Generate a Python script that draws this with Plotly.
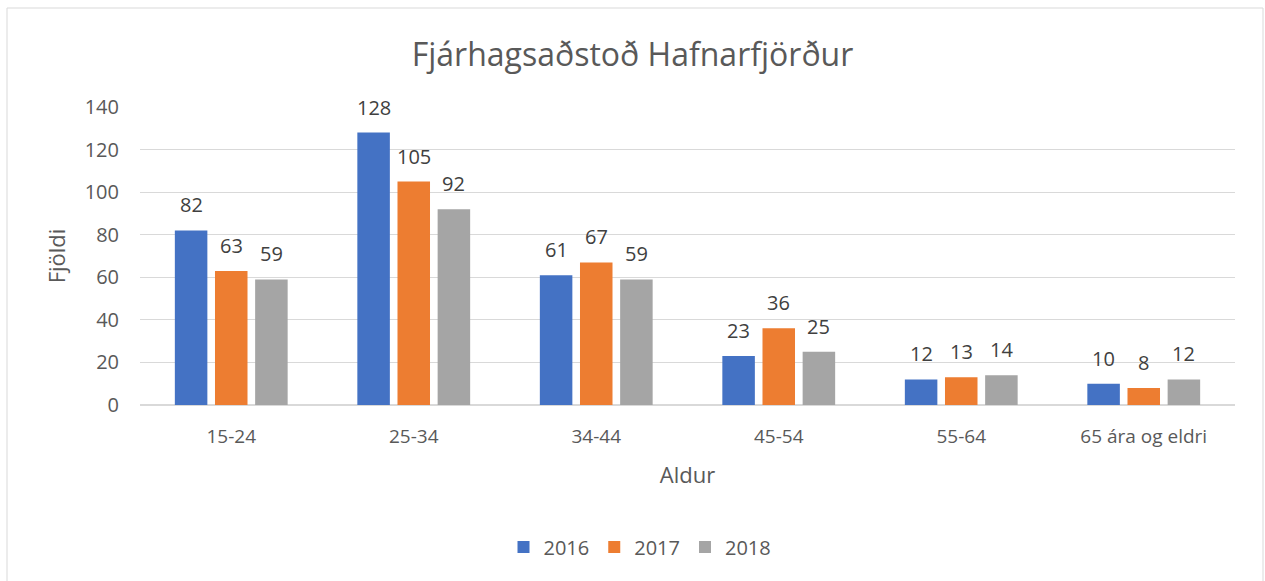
import plotly.graph_objects as go

categories = ["15-24", "25-34", "34-44", "45-54", "55-64", "65 ára og eldri"]
years = ["2016", "2017", "2018"]
v2016 = [82, 128, 61, 23, 12, 10]
v2017 = [63, 105, 67, 36, 13, 8]
v2018 = [59, 92, 59, 25, 14, 12]
colors = ["#4472C4", "#ED7D31", "#A5A5A5"]

FONT = "Open Sans"
BARGAP = 0.34
series = [v2016, v2017, v2018]

fig = go.Figure()
for name, vals, c in zip(years, series, colors):
    fig.add_trace(go.Bar(
        x=categories, y=vals, name=name, marker=dict(color=c, line=dict(width=0)),
    ))

# data labels placed above each bar, aligned with grouped-bar slots
slot = (1 - BARGAP) / len(series)
annotations = []
for k, vals in enumerate(series):
    off = (k - (len(series) - 1) / 2) * slot
    for i, v in enumerate(vals):
        annotations.append(dict(
            x=i + off, y=v, xref="x", yref="y", text=str(v), showarrow=False,
            yanchor="bottom", xanchor="center", yshift=10,
            font=dict(size=20, color="#404040", family=FONT),
        ))

W, H = 1265, 581
L, R, T, B = 140, 30, 107, 176
pw, ph = W - L - R, H - T - B

fig.update_layout(
    width=W, height=H,
    paper_bgcolor="white", plot_bgcolor="white",
    margin=dict(l=L, r=R, t=T, b=B),
    barmode="group", bargap=BARGAP, bargroupgap=0.19,
    title=dict(text="Fjárhagsaðstoð Hafnarfjörður", x=0.5, xanchor="center",
               y=1 - 55 / H, yanchor="middle",
               font=dict(size=32, color="#595959", family=FONT)),
    font=dict(family=FONT, color="#595959", size=16),
    xaxis=dict(title=dict(text="Aldur", font=dict(size=22, color="#595959"), standoff=19),
               tickfont=dict(size=19, color="#595959"), showline=True,
               linecolor="#D9D9D9", linewidth=1, ticks="", ticklabelstandoff=14),
    yaxis=dict(title=dict(text="Fjöldi", font=dict(size=22, color="#595959"), standoff=12),
               range=[0, 140], dtick=20, tickfont=dict(size=20, color="#595959"),
               gridcolor="#D9D9D9", gridwidth=1, zeroline=True, zerolinecolor="#D9D9D9",
               ticks="", ticklabelstandoff=20),
    legend=dict(orientation="h", x=(640 - L) / pw, xanchor="center", y=(405 - 547) / ph,
                yanchor="middle", font=dict(size=20, color="#595959"), itemwidth=30,
                traceorder="normal"),
    annotations=annotations,
    shapes=[dict(type="rect", xref="paper", yref="paper",
                 x0=(7 - L) / pw, x1=(1263 - L) / pw,
                 y0=(T + ph - 600) / ph, y1=(T + ph - 8) / ph,
                 line=dict(color="#D9D9D9", width=1))],
)

fig.write_html("out.html", config={"displayModeBar": False},
               post_script="document.body.style.margin='0';")
